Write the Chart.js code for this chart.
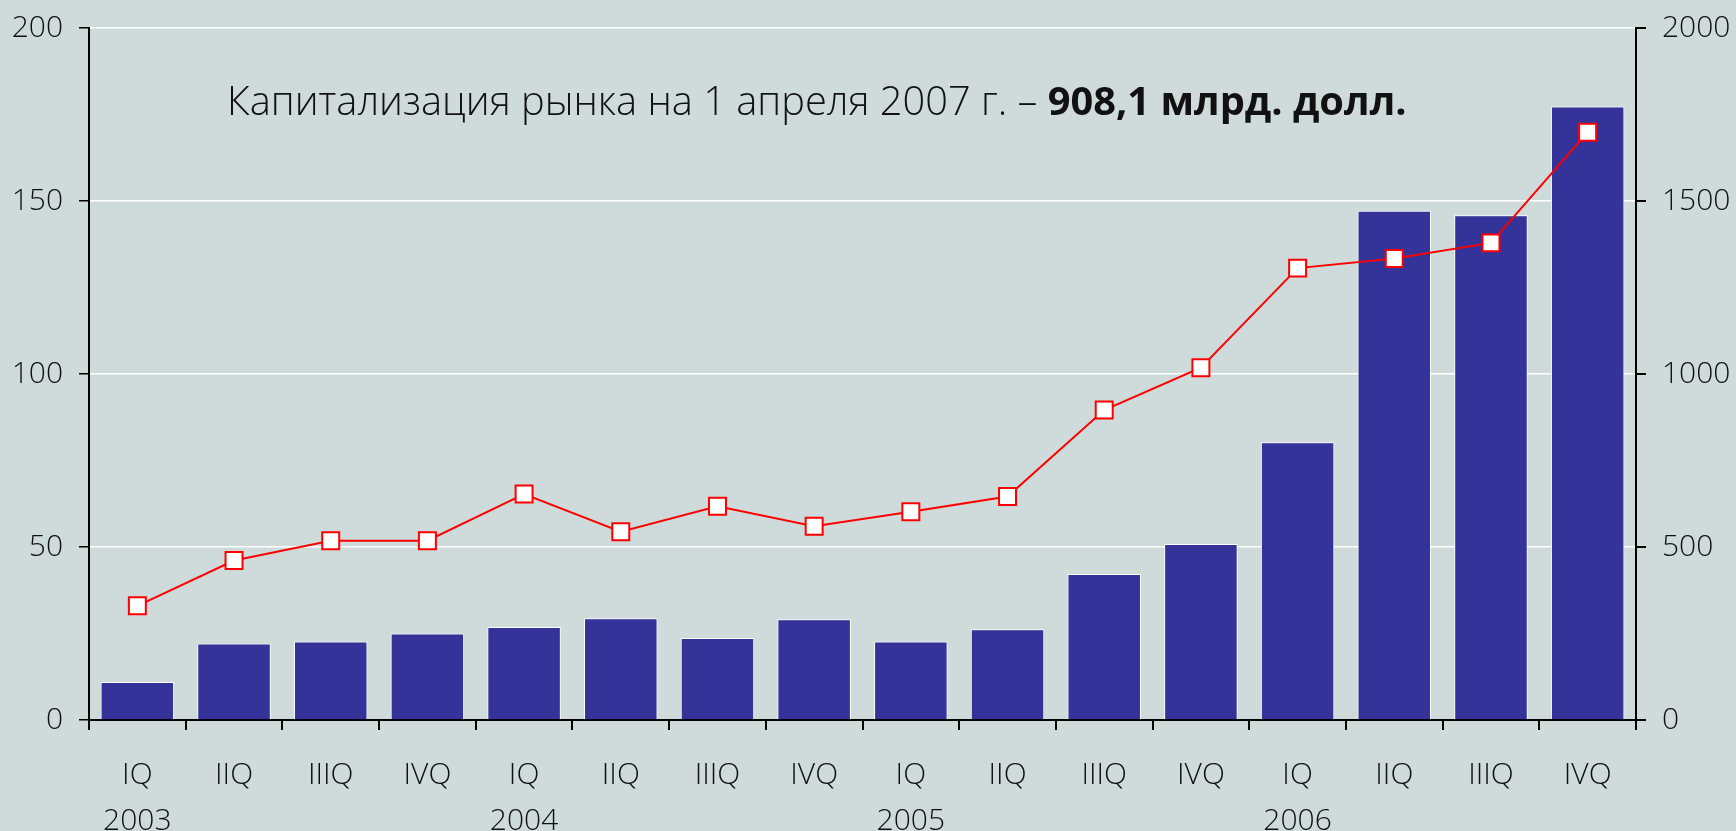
<!DOCTYPE html>
<html>
<head>
<meta charset="utf-8">
<script src="https://cdn.jsdelivr.net/npm/chart.js@4"></script>
<style>
  html, body { margin: 0; padding: 0; background: #cfdbdb; }
  #wrap { width: 1736px; height: 831px; }
</style>
</head>
<body>
<div id="wrap"><canvas id="myChart" width="1736" height="831"></canvas></div>
<script>
// quarters and years under the x axis
const quarters = ['IQ', 'IIQ', 'IIIQ', 'IVQ', 'IQ', 'IIQ', 'IIIQ', 'IVQ',
                  'IQ', 'IIQ', 'IIIQ', 'IVQ', 'IQ', 'IIQ', 'IIIQ', 'IVQ'];
const years = ['2003', '', '', '', '2004', '', '', '', '2005', '', '', '', '2006', '', '', ''];

// bars (left axis) and line (right axis)
const bar_values = [11, 22.1, 22.7, 25, 26.9, 29.4, 23.7, 29.1,
                    22.7, 26.2, 42.2, 50.9, 80.3, 147.2, 145.9, 177.3];
const line_values = [330, 461, 518, 518, 653, 544, 618, 560,
                     602, 646, 896, 1018, 1306, 1334, 1379, 1699];

const title_plain = 'Капитализация рынка на 1 апреля 2007 г. – ';
const title_bold = '908,1 млрд. долл.';

const font_name = '"Open Sans", sans-serif';

const labels = quarters.map((q, i) => [q, years[i]]);

//----------------background + title plugins------------------
const bg_plugin = {
    id: 'bg',
    beforeDraw(chart) {
        const ctx = chart.ctx;
        ctx.save();
        ctx.fillStyle = '#cfdbdb';
        ctx.fillRect(0, 0, chart.width, chart.height);
        ctx.restore();
    }
};

const title_plugin = {
    id: 'title_text',
    afterDraw(chart) {
        const ctx = chart.ctx;
        ctx.save();
        let size = 36;
        ctx.font = '300 ' + size + 'px ' + font_name;
        let w1 = ctx.measureText(title_plain).width;
        ctx.font = 'bold ' + size + 'px ' + font_name;
        let w2 = ctx.measureText(title_bold).width;
        size = size * 1180 / (w1 + w2);
        ctx.fillStyle = '#111';
        ctx.textBaseline = 'alphabetic';
        ctx.font = '300 ' + size + 'px ' + font_name;
        w1 = ctx.measureText(title_plain).width;
        ctx.fillText(title_plain, 227, 115);
        ctx.font = 'bold ' + size + 'px ' + font_name;
        ctx.fillText(title_bold, 227 + w1, 115);
        ctx.restore();
    }
};

const tick_font = { family: font_name, size: 30, weight: '300' };
const y_tick_font = { family: font_name, size: 30, weight: '300', lineHeight: 0.8 };

const data = {
    labels: labels,
    datasets: [{
        type: 'line',
        data: line_values,
        yAxisID: 'y2',
        borderColor: '#ff0000',
        borderWidth: 2,
        pointStyle: 'rect',
        pointRadius: 12,
        pointBorderWidth: 2,
        pointBackgroundColor: '#ffffff',
        pointBorderColor: '#ff0000',
        order: 0,
    }, {
        type: 'bar',
        data: bar_values,
        yAxisID: 'y',
        backgroundColor: '#34339a',
        borderColor: '#ffffff',
        borderWidth: 1,
        borderSkipped: 'bottom',
        categoryPercentage: 1,
        barPercentage: 0.76,
        order: 1,
    }]
};

const config = {
    data: data,
    options: {
        responsive: false,
        animation: false,
        layout: { padding: { top: 28, left: 0, right: 0, bottom: 0 } },
        plugins: { legend: { display: false }, tooltip: { enabled: false } },
        scales: {
            x: {
                offset: true,
                grid: { offset: true, drawOnChartArea: false, tickLength: 10, color: '#000', lineWidth: 2 },
                border: { color: '#000', width: 2 },
                ticks: { font: Object.assign({}, tick_font, { lineHeight: 1.55 }), color: '#111', padding: 22, maxRotation: 0, autoSkip: false },
                afterFit(scale) { scale.height = 111; }
            },
            y: {
                position: 'left',
                min: 0, max: 200,
                ticks: { stepSize: 50, font: y_tick_font, color: '#111', padding: 16 },
                grid: {
                    color: (c) => c.tick && c.tick.value === 0 ? 'rgba(0,0,0,0)' : '#ffffff',
                    lineWidth: 1.5,
                    tickColor: '#000',
                    tickLength: 10,
                },
                border: { color: '#000', width: 2 },
                afterFit(scale) { scale.width = 89; }
            },
            y2: {
                position: 'right',
                min: 0, max: 2000,
                ticks: { stepSize: 500, font: y_tick_font, color: '#111', padding: 16, callback: (v) => String(v) },
                grid: { drawOnChartArea: false, tickColor: '#000', tickLength: 10, lineWidth: 2 },
                border: { color: '#000', width: 2 },
                afterFit(scale) { scale.width = 100; }
            }
        }
    },
    plugins: [bg_plugin, title_plugin]
};

const myChart = new Chart(document.getElementById('myChart'), config);
</script>
</body>
</html>
